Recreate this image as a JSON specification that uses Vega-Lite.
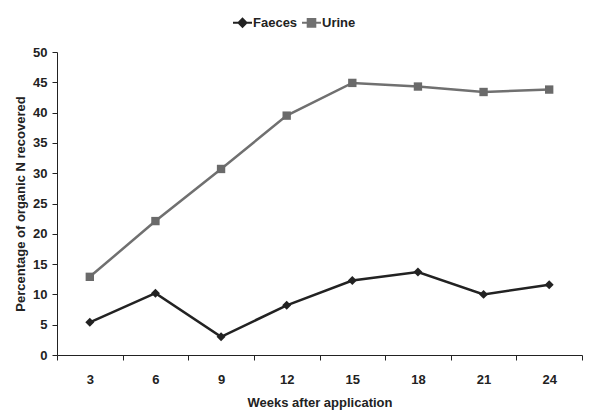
{
  "$schema": "https://vega.github.io/schema/vega-lite/v6.json",
  "width": 525,
  "height": 303,
  "autosize": {"type": "none"},
  "padding": {"left": 57, "top": 52, "right": 10, "bottom": 55},
  "background": "white",
  "config": {
    "view": {"stroke": null},
    "font": "Liberation Sans",
    "axis": {
      "labelFont": "Liberation Sans",
      "labelFontWeight": "bold",
      "labelFontSize": 13,
      "labelColor": "#222222",
      "titleFont": "Liberation Sans",
      "titleFontWeight": "bold",
      "titleFontSize": 13,
      "titleColor": "#222222",
      "domainColor": "#222222",
      "tickColor": "#222222",
      "grid": false
    }
  },
  "data": {
    "values": [
      {"week": "3", "series": "Faeces", "pct": 5.4},
      {"week": "6", "series": "Faeces", "pct": 10.2},
      {"week": "9", "series": "Faeces", "pct": 3.0},
      {"week": "12", "series": "Faeces", "pct": 8.2},
      {"week": "15", "series": "Faeces", "pct": 12.3},
      {"week": "18", "series": "Faeces", "pct": 13.7},
      {"week": "21", "series": "Faeces", "pct": 10.0},
      {"week": "24", "series": "Faeces", "pct": 11.6},
      {"week": "3", "series": "Urine", "pct": 12.9},
      {"week": "6", "series": "Urine", "pct": 22.1},
      {"week": "9", "series": "Urine", "pct": 30.7},
      {"week": "12", "series": "Urine", "pct": 39.5},
      {"week": "15", "series": "Urine", "pct": 44.9},
      {"week": "18", "series": "Urine", "pct": 44.3},
      {"week": "21", "series": "Urine", "pct": 43.4},
      {"week": "24", "series": "Urine", "pct": 43.8}
    ]
  },
  "encoding": {
    "x": {
      "field": "week",
      "type": "ordinal",
      "sort": ["3", "6", "9", "12", "15", "18", "21", "24"],
      "scale": {"type": "band", "paddingInner": 0, "paddingOuter": 0},
      "axis": {
        "title": "Weeks after application",
        "labelAngle": 0,
        "tickBand": "extent",
        "tickSize": 5,
        "labelPadding": 13,
        "titlePadding": 10
      }
    },
    "y": {
      "field": "pct",
      "type": "quantitative",
      "scale": {"domain": [0, 50], "nice": false},
      "axis": {
        "title": "Percentage of organic N recovered",
        "values": [0, 5, 10, 15, 20, 25, 30, 35, 40, 45, 50],
        "tickSize": 5,
        "labelPadding": 5,
        "titlePadding": 5
      }
    }
  },
  "layer": [
    {
      "mark": {"type": "line", "strokeWidth": 2.5},
      "encoding": {
        "color": {
          "field": "series",
          "type": "nominal",
          "scale": {"domain": ["Faeces", "Urine"], "range": ["#222222", "#707070"]},
          "legend": {
            "orient": "none",
            "legendX": 175,
            "legendY": -40,
            "direction": "horizontal",
            "title": null,
            "labelFont": "Liberation Sans",
            "labelFontWeight": "bold",
            "labelFontSize": 13,
            "labelColor": "#222222",
            "symbolSize": 361,
            "symbolStrokeWidth": 2,
            "labelOffset": 0,
            "columnPadding": 0,
            "encode": {
              "symbols": {
                "update": {
                  "shape": {"signal": "datum.value === 'Faeces' ? 'M-1,0H1M0,-0.42L0.42,0L0,0.42L-0.42,0Z' : 'M-1,0H1M-0.4,-0.4H0.4V0.4H-0.4Z'"},
                  "fill": {"signal": "datum.value === 'Faeces' ? '#222222' : '#707070'"},
                  "stroke": {"signal": "datum.value === 'Faeces' ? '#222222' : '#707070'"}
                }
              }
            }
          }
        }
      }
    },
    {
      "transform": [{"filter": "datum.series === 'Faeces'"}],
      "mark": {"type": "point", "filled": true, "opacity": 1, "shape": "diamond", "size": 80, "color": "#222222"}
    },
    {
      "transform": [{"filter": "datum.series === 'Urine'"}],
      "mark": {"type": "point", "filled": true, "opacity": 1, "shape": "square", "size": 70, "color": "#6a6a6a"}
    }
  ]
}
